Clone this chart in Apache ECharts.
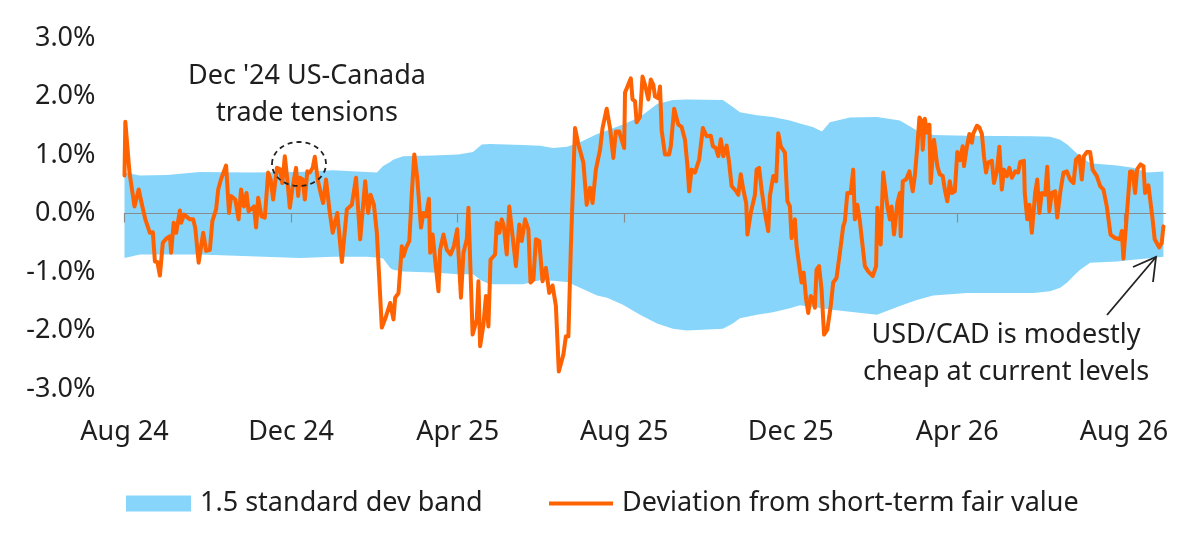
<!DOCTYPE html>
<html>
<head>
<meta charset="utf-8">
<title>USD/CAD deviation from short-term fair value</title>
<script src="https://cdn.jsdelivr.net/npm/echarts@6/dist/echarts.min.js"></script>
<style>
    html, body { margin: 0; padding: 0; background: #fff; }
    #chart { width: 1200px; height: 548px; }
</style>
</head>
<body>
<div id="chart"></div>
<script>
// x = months since Aug 2024, y = % deviation
var tickMonths = [0, 4, 8, 12, 16, 20, 24];
var tickLabels = ['Aug 24', 'Dec 24', 'Apr 25', 'Aug 25', 'Dec 25', 'Apr 26', 'Aug 26'];

var bandName = '1.5 standard dev band';
var lineName = 'Deviation from short-term fair value';

var bandUpper = [
    [0.00, 0.70], [0.37, 0.65], [1.02, 0.66], [1.81, 0.71], [3.01, 0.70], [4.21, 0.71], [5.01, 0.74],
    [5.82, 0.71], [6.06, 0.70], [6.21, 0.81], [6.38, 0.88], [6.45, 0.92], [6.69, 0.98], [7.41, 0.99],
    [8.01, 1.01], [8.37, 1.05], [8.58, 1.18], [8.78, 1.19], [9.57, 1.17], [9.98, 1.16], [10.29, 1.12],
    [10.63, 1.14], [10.94, 1.22], [11.35, 1.36], [11.59, 1.42], [11.97, 1.52], [12.38, 1.65], [12.79, 1.87],
    [13.17, 1.94], [13.51, 1.95], [14.37, 1.94], [14.61, 1.82], [14.78, 1.73], [15.19, 1.68], [15.57, 1.65],
    [15.98, 1.59], [16.22, 1.54], [16.53, 1.48], [16.75, 1.40], [16.94, 1.56], [17.42, 1.64], [18.07, 1.65],
    [18.62, 1.59], [19.03, 1.42], [19.42, 1.34], [20.23, 1.33], [21.82, 1.32], [22.23, 1.31], [22.47, 1.26],
    [22.64, 1.18], [22.79, 1.08], [22.95, 0.98], [23.19, 0.86], [23.84, 0.82], [24.22, 0.78], [24.56, 0.70],
    [24.95, 0.72]
];
var bandLower = [
    [0.00, -0.76], [0.37, -0.70], [1.02, -0.70], [1.81, -0.70], [3.01, -0.73], [4.21, -0.76], [5.01, -0.74],
    [5.82, -0.74], [6.06, -0.75], [6.21, -0.77], [6.38, -0.93], [6.45, -0.96], [6.69, -0.99], [7.41, -1.01],
    [8.01, -1.04], [8.37, -1.04], [8.58, -1.15], [8.78, -1.21], [9.57, -1.21], [9.98, -1.14], [10.29, -1.15],
    [10.63, -1.17], [10.94, -1.27], [11.35, -1.40], [11.59, -1.44], [11.97, -1.56], [12.38, -1.73], [12.79, -1.88],
    [13.17, -1.97], [13.51, -2.00], [14.37, -1.97], [14.61, -1.88], [14.78, -1.79], [15.19, -1.73], [15.57, -1.69],
    [15.98, -1.62], [16.22, -1.57], [16.53, -1.60], [16.75, -1.62], [16.94, -1.64], [17.42, -1.68], [18.07, -1.73],
    [18.62, -1.58], [19.03, -1.48], [19.42, -1.40], [20.23, -1.36], [21.82, -1.36], [22.23, -1.33], [22.47, -1.27],
    [22.64, -1.18], [22.79, -1.07], [22.95, -0.96], [23.19, -0.84], [23.84, -0.82], [24.22, -0.79], [24.56, -0.77],
    [24.95, -0.74]
];

var deviation = [
    [0.00, 0.65], [0.02, 1.57], [0.12, 0.70], [0.24, 0.12], [0.34, 0.41], [0.42, 0.15], [0.50, -0.10], [0.61, -0.33],
    [0.68, -0.32], [0.73, -0.82], [0.79, -0.83], [0.85, -1.06], [0.92, -0.50], [1.00, -0.43], [1.09, -0.39], [1.12, -0.67],
    [1.18, -0.16], [1.24, -0.33], [1.33, 0.05], [1.36, -0.16], [1.43, -0.02], [1.57, -0.10], [1.65, -0.10], [1.70, -0.25],
    [1.78, -0.84], [1.89, -0.33], [1.96, -0.64], [2.05, -0.62], [2.11, -0.13], [2.20, 0.07], [2.25, 0.41], [2.32, 0.59],
    [2.44, 0.82], [2.51, 0.01], [2.56, 0.30], [2.66, 0.24], [2.74, -0.10], [2.80, 0.41], [2.87, 0.12], [2.93, 0.35],
    [2.98, 0.04], [3.11, 0.12], [3.16, -0.24], [3.21, 0.27], [3.29, -0.05], [3.37, -0.07], [3.45, 0.70], [3.51, 0.58],
    [3.57, 0.24], [3.66, 0.78], [3.73, 0.76], [3.79, 0.52], [3.85, 0.98], [3.91, 0.58], [3.97, 0.10], [4.04, 0.47],
    [4.12, 0.78], [4.17, 0.30], [4.21, 0.61], [4.28, 0.58], [4.33, 0.24], [4.39, 0.72], [4.45, 0.70], [4.52, 0.78],
    [4.57, 0.97], [4.64, 0.58], [4.71, 0.35], [4.77, 0.18], [4.84, 0.58], [4.92, 0.07], [5.00, -0.33], [5.11, 0.01],
    [5.22, -0.83], [5.34, 0.07], [5.46, 0.15], [5.56, 0.61], [5.66, -0.44], [5.78, 0.55], [5.85, 0.01], [5.91, 0.32],
    [5.99, 0.15], [6.06, -0.33], [6.18, -1.95], [6.28, -1.76], [6.38, -1.53], [6.46, -1.81], [6.50, -1.44], [6.58, -1.36],
    [6.66, -0.56], [6.70, -0.73], [6.76, -0.59], [6.84, -0.47], [6.90, 0.35], [6.96, 1.01], [7.03, 0.61], [7.12, -0.24],
    [7.18, 0.01], [7.24, -0.05], [7.31, 0.25], [7.34, -0.67], [7.40, -0.36], [7.46, -0.79], [7.54, -1.33], [7.58, -0.62],
    [7.66, -0.36], [7.74, -0.62], [7.83, -0.70], [7.91, -0.56], [7.99, -0.27], [8.08, -1.44], [8.14, -0.67], [8.22, -0.44],
    [8.26, 0.10], [8.36, -2.07], [8.46, -1.81], [8.50, -1.16], [8.54, -2.27], [8.62, -1.90], [8.68, -1.41], [8.74, -1.93],
    [8.79, -0.79], [8.90, -0.70], [8.94, -0.16], [9.00, -0.33], [9.06, -0.10], [9.11, -0.22], [9.18, -0.70], [9.24, 0.12],
    [9.32, -0.39], [9.40, -0.90], [9.48, -0.19], [9.54, -0.47], [9.62, -0.10], [9.70, -0.27], [9.75, -1.18], [9.82, -1.13],
    [9.88, -0.44], [9.96, -0.47], [10.04, -1.16], [10.12, -0.93], [10.20, -1.36], [10.28, -1.23], [10.36, -1.58], [10.43, -2.70],
    [10.54, -2.41], [10.60, -2.10], [10.66, -2.10], [10.72, -0.56], [10.82, 1.46], [10.90, 1.18], [11.02, 0.87], [11.10, 0.15],
    [11.18, 0.44], [11.24, 0.18], [11.32, 0.75], [11.42, 1.09], [11.48, 1.46], [11.58, 1.79], [11.66, 1.46], [11.74, 0.95],
    [11.80, 1.40], [11.88, 1.40], [12.00, 1.12], [12.02, 2.07], [12.16, 2.31], [12.20, 1.95], [12.26, 1.92], [12.30, 1.56],
    [12.38, 1.65], [12.44, 2.34], [12.50, 2.20], [12.58, 1.95], [12.64, 2.29], [12.70, 2.20], [12.74, 2.00], [12.82, 1.97],
    [12.86, 2.17], [12.90, 1.42], [12.98, 1.01], [13.08, 1.01], [13.12, 1.15], [13.20, 1.79], [13.30, 1.52], [13.38, 1.48],
    [13.46, 1.26], [13.52, 0.81], [13.56, 0.38], [13.62, 0.75], [13.70, 0.70], [13.80, 0.92], [13.89, 1.46], [13.98, 1.32],
    [14.08, 1.33], [14.13, 1.15], [14.20, 1.12], [14.26, 0.98], [14.32, 1.27], [14.38, 0.98], [14.46, 1.16], [14.52, 0.87],
    [14.58, 0.47], [14.69, 0.38], [14.74, 0.32], [14.80, 0.67], [14.86, 0.41], [14.93, 0.18], [14.96, -0.36], [15.00, -0.39],
    [15.04, 0.01], [15.14, 0.32], [15.18, 0.75], [15.24, 0.78], [15.30, 0.41], [15.38, 0.01], [15.46, -0.30], [15.50, 0.30],
    [15.58, 0.64], [15.65, 0.55], [15.70, 1.37], [15.76, 1.15], [15.86, 1.04], [15.92, 0.21], [15.98, 0.12], [16.02, -0.42],
    [16.10, -0.10], [16.14, -0.56], [16.26, -1.18], [16.31, -1.01], [16.37, -1.47], [16.42, -1.70], [16.48, -1.41], [16.54, -1.47],
    [16.58, -1.61], [16.62, -0.96], [16.68, -0.90], [16.74, -1.30], [16.80, -2.07], [16.88, -1.98], [16.96, -1.58], [17.02, -1.18],
    [17.10, -1.10], [17.18, -0.67], [17.26, -0.22], [17.30, -0.13], [17.36, 0.35], [17.44, 0.35], [17.50, 0.75], [17.54, -0.10],
    [17.60, 0.15], [17.66, -0.13], [17.70, -0.39], [17.78, -0.90], [17.86, -0.99], [17.97, -1.07], [18.05, -0.90], [18.08, 0.10],
    [18.16, -0.53], [18.22, 0.70], [18.32, 0.12], [18.38, -0.10], [18.42, 0.12], [18.48, -0.36], [18.56, 0.18], [18.62, 0.35],
    [18.64, -0.39], [18.69, 0.55], [18.77, 0.58], [18.85, 0.72], [18.93, 0.38], [18.98, 0.64], [19.04, 1.15], [19.09, 1.64],
    [19.14, 1.58], [19.17, 1.09], [19.22, 1.62], [19.28, 1.38], [19.33, 1.52], [19.36, 0.52], [19.44, 1.26], [19.52, 0.81],
    [19.58, 0.67], [19.65, 0.64], [19.70, 0.41], [19.76, 0.21], [19.82, 0.55], [19.87, 0.35], [19.94, 0.38], [20.00, 1.05],
    [20.06, 0.91], [20.13, 1.15], [20.16, 0.81], [20.23, 1.14], [20.29, 1.36], [20.35, 1.21], [20.38, 1.36], [20.47, 1.50],
    [20.53, 1.47], [20.59, 1.36], [20.64, 0.98], [20.69, 0.70], [20.74, 0.87], [20.83, 0.90], [20.88, 0.52], [20.95, 0.72],
    [21.01, 1.14], [21.07, 0.41], [21.12, 0.75], [21.19, 0.64], [21.25, 0.78], [21.31, 0.61], [21.39, 0.72], [21.46, 0.70],
    [21.51, 0.88], [21.60, 0.90], [21.62, 0.35], [21.68, -0.10], [21.73, 0.15], [21.79, -0.33], [21.87, 0.35], [21.92, 0.58],
    [21.97, 0.01], [22.03, 0.35], [22.11, 0.32], [22.16, 0.80], [22.21, 0.04], [22.27, 0.35], [22.35, 0.38], [22.40, -0.07],
    [22.47, 0.35], [22.55, 0.70], [22.63, 0.72], [22.71, 0.58], [22.79, 0.52], [22.85, 0.92], [22.93, 0.98], [22.99, 0.58],
    [23.04, 0.98], [23.11, 1.05], [23.19, 1.05], [23.25, 0.75], [23.35, 0.64], [23.43, 0.47], [23.51, 0.41], [23.59, 0.12],
    [23.68, -0.36], [23.79, -0.42], [23.91, -0.44], [23.95, -0.30], [23.99, -0.77], [24.05, -0.22], [24.15, 0.72], [24.21, 0.72],
    [24.27, 0.35], [24.32, 0.76], [24.40, 0.84], [24.47, 0.81], [24.51, 0.35], [24.59, 0.48], [24.69, -0.10], [24.74, -0.44],
    [24.85, -0.58], [24.91, -0.50], [24.95, -0.22]
];

var FONT = '"Noto Sans", "DejaVu Sans", sans-serif';
var TEXT = '#1e1e1e';
var BLUE = '#87d5fa';
var ORANGE = '#ff6200';

var chart = echarts.init(document.getElementById('chart'));

var option = {
    animation: false,
    textStyle: { fontFamily: FONT },
    grid: { left: 124.5, right: 34.5, top: 38, bottom: 159, outerBoundsMode: 'none' },
    legend: [
        {
            data: [bandName],
            left: 121, top: 485,
            icon: 'rect', itemWidth: 65, itemHeight: 16,
            textStyle: { fontSize: 27, color: TEXT, fontFamily: FONT, padding: [0, 0, 0, 4] }
        },
        {
            data: [lineName],
            left: 544, top: 485,
            icon: 'rect', itemWidth: 64, itemHeight: 4,
            textStyle: { fontSize: 27, color: TEXT, fontFamily: FONT, padding: [0, 0, 0, 4] }
        }
    ],
    xAxis: [
        {
            type: 'value', min: 0, max: 25,
            axisLine: { show: false, onZero: false },
            axisTick: { show: false },
            splitLine: { show: false },
            axisLabel: {
                customValues: tickMonths,
                margin: 30,
                fontSize: 27, color: TEXT, fontFamily: FONT,
                formatter: function (v) {
                    var i = tickMonths.indexOf(v);
                    return i >= 0 ? tickLabels[i] : '';
                }
            }
        },
        {
            type: 'value', min: 0, max: 25, position: 'top', z: 3,
            axisLine: { show: true, onZero: true, lineStyle: { color: '#8a8a8a', width: 1.2 } },
            axisTick: { show: true, inside: true, length: 9, customValues: tickMonths, lineStyle: { color: '#8a8a8a', width: 1.2 } },
            axisLabel: { show: false },
            splitLine: { show: false }
        }
    ],
    yAxis: {
        type: 'value', min: -3, max: 3, interval: 1,
        axisLine: { show: false },
        axisTick: { show: false },
        splitLine: { show: false },
        axisLabel: {
            margin: 29,
            fontSize: 27, color: TEXT, fontFamily: FONT,
            formatter: function (v) { return v.toFixed(1) + '%'; }
        }
    },
    series: [
        {
            name: bandName, type: 'line', z: 1,
            data: bandUpper,
            symbol: 'none',
            lineStyle: { width: 0 },
            itemStyle: { color: BLUE },
            areaStyle: { color: BLUE, opacity: 1 }
        },
        {
            name: bandName, type: 'line', z: 1,
            data: bandLower,
            symbol: 'none',
            lineStyle: { width: 0 },
            itemStyle: { color: BLUE },
            areaStyle: { color: BLUE, opacity: 1 }
        },
        {
            name: lineName, type: 'line', z: 5,
            data: deviation,
            symbol: 'none',
            itemStyle: { color: ORANGE },
            lineStyle: { color: ORANGE, width: 4, join: 'round', cap: 'round' }
        }
    ],
    graphic: [
        {
            type: 'text', z: 10,
            style: {
                text: "Dec '24 US-Canada\ntrade tensions",
                x: 307, y: 95,
                textAlign: 'center', textVerticalAlign: 'middle',
                font: '27px ' + FONT, lineHeight: 37, fill: TEXT
            }
        },
        {
            type: 'ellipse', z: 10,
            shape: { cx: 299, cy: 164, rx: 27, ry: 22 },
            style: { fill: 'none', stroke: '#222', lineWidth: 1.8, lineDash: [5, 4] }
        },
        {
            type: 'text', z: 10,
            style: {
                text: 'USD/CAD is modestly\ncheap at current levels',
                x: 1006, y: 354,
                textAlign: 'center', textVerticalAlign: 'middle',
                font: '27px ' + FONT, lineHeight: 37, fill: TEXT
            }
        },
        {
            type: 'line', z: 10,
            shape: { x1: 1107, y1: 315, x2: 1156, y2: 257 },
            style: { stroke: '#222', lineWidth: 1.8 }
        },
        {
            type: 'polyline', z: 10,
            shape: { points: [[1133, 267], [1156, 257], [1153, 282]] },
            style: { stroke: '#222', lineWidth: 1.8, fill: 'none' }
        }
    ]
};

chart.setOption(option);
</script>
</body>
</html>
